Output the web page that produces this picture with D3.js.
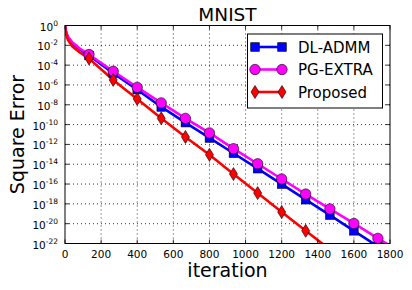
<!DOCTYPE html>
<html>
<head>
<meta charset="utf-8">
<script src="https://cdn.jsdelivr.net/npm/d3@7"></script>
<style>
  body { margin: 0; background: #fff; }
  text { font-family: "DejaVu Sans", sans-serif; fill: #000; }
</style>
</head>
<body>
<div id="chart"></div>
<script>
const width = 412, height = 290;
const margin = { top: 25.5, right: 22, bottom: 46.5, left: 65 };

// iterations of the drawn points (markers at every 133rd iteration)
const iters = [0, 5, 15, 40, 80, 133, 267, 400, 533, 667, 800, 933, 1067, 1200, 1333, 1467, 1600, 1733, 1867];
const markerStart = 5; // index of first marked point
// log10 of square error
const dlAdmm   = [0, -0.6, -1.15, -1.8, -2.4, -3.03, -4.80, -6.47, -8.22, -9.80, -11.35, -12.89, -14.45, -16.00, -17.58, -19.13, -20.72, -22.3, -23.9];
const pgExtra  = [0, -0.6, -1.1, -1.7, -2.3, -2.93, -4.62, -6.24, -7.81, -9.37, -10.84, -12.43, -13.95, -15.49, -17.01, -18.51, -19.98, -21.48, -22.95];
const proposed = [0, -0.8, -1.4, -2.1, -2.7, -3.33, -5.49, -7.41, -9.37, -11.25, -13.04, -14.99, -16.91, -18.83, -20.72, -22.6, -24.5, -26.4, -28.3];

const names = ["DL-ADMM", "PG-EXTRA", "Proposed"];
const colors = ["#0000ff", "#ff00ff", "#ff0000"];
const shapes = ["square", "circle", "diamond"];
const xTicks = [0, 200, 400, 600, 800, 1000, 1200, 1400, 1600, 1800];
const yExps = [0, -2, -4, -6, -8, -10, -12, -14, -16, -18, -20, -22];

const series = [dlAdmm, pgExtra, proposed].map((vals, i) => ({
  name: names[i], color: colors[i], shape: shapes[i],
  points: vals.map((e, j) => ({ it: iters[j], v: Math.pow(10, e), mark: j >= markerStart }))
}));

const x = d3.scaleLinear().domain([0, 1800]).range([margin.left, width - margin.right]);
const y = d3.scaleLog().domain([1e-22, 1]).range([height - margin.bottom, margin.top]);

const svg = d3.select("#chart").append("svg").attr("width", width).attr("height", height);

svg.append("clipPath").attr("id", "clip").append("rect")
  .attr("x", x(0)).attr("y", y(1)).attr("width", x(1800) - x(0)).attr("height", y(1e-22) - y(1));

// grid
const grid = svg.append("g").attr("stroke", "#000").attr("stroke-width", 0.8).attr("stroke-dasharray", "1,3");
grid.selectAll(".gx").data(xTicks.slice(1, -1)).join("line")
  .attr("x1", d => x(d)).attr("x2", d => x(d)).attr("y1", y(1)).attr("y2", y(1e-22));
grid.selectAll(".gy").data(yExps.slice(1, -1)).join("line")
  .attr("y1", d => y(Math.pow(10, d))).attr("y2", d => y(Math.pow(10, d))).attr("x1", x(0)).attr("x2", x(1800));

// lines + markers
const line = d3.line().x(d => x(d.it)).y(d => y(d.v));
const plot = svg.append("g").attr("clip-path", "url(#clip)");

function drawMarker(g, shape, color, cx, cy) {
  if (shape === "square") {
    g.append("rect").attr("x", cx - 4.3).attr("y", cy - 4.3).attr("width", 8.6).attr("height", 8.6)
      .attr("fill", color).attr("stroke", "#000").attr("stroke-width", 0.6);
  } else if (shape === "circle") {
    g.append("circle").attr("cx", cx).attr("cy", cy).attr("r", 5.2)
      .attr("fill", color).attr("stroke", "#000").attr("stroke-width", 0.6);
  } else {
    g.append("path").attr("d", `M${cx},${cy - 6.5}L${cx + 4},${cy}L${cx},${cy + 6.5}L${cx - 4},${cy}Z`)
      .attr("fill", color).attr("stroke", "#000").attr("stroke-width", 0.6);
  }
}

series.forEach(s => {
  plot.append("path").datum(s.points).attr("d", line)
    .attr("fill", "none").attr("stroke", s.color).attr("stroke-width", 2.6);
});
series.forEach(s => {
  s.points.filter(d => d.mark && d.it <= 1800).forEach(d => drawMarker(plot, s.shape, s.color, x(d.it), y(d.v)));
});

// frame
svg.append("rect").attr("x", x(0)).attr("y", y(1)).attr("width", x(1800) - x(0)).attr("height", y(1e-22) - y(1))
  .attr("fill", "none").attr("stroke", "#000").attr("stroke-width", 1);

// ticks (inward, all sides)
const tk = svg.append("g").attr("stroke", "#000").attr("stroke-width", 0.8);
xTicks.forEach(t => {
  tk.append("line").attr("x1", x(t)).attr("x2", x(t)).attr("y1", y(1e-22)).attr("y2", y(1e-22) - 4);
  tk.append("line").attr("x1", x(t)).attr("x2", x(t)).attr("y1", y(1)).attr("y2", y(1) + 4);
});
yExps.forEach(e => {
  const yy = y(Math.pow(10, e));
  tk.append("line").attr("x1", x(0)).attr("x2", x(0) + 4).attr("y1", yy).attr("y2", yy);
  tk.append("line").attr("x1", x(1800)).attr("x2", x(1800) - 4).attr("y1", yy).attr("y2", yy);
});

// tick labels
svg.append("g").selectAll("text").data(xTicks).join("text")
  .attr("x", d => x(d)).attr("y", y(1e-22) + 14).attr("text-anchor", "middle")
  .style("font-size", "10.5px").text(d => d);

const yl = svg.append("g").selectAll("text").data(yExps).join("text")
  .attr("x", x(0) - 7).attr("y", d => y(Math.pow(10, d)) + 5).attr("text-anchor", "end")
  .style("font-size", "10.5px");
yl.append("tspan").text("10");
yl.append("tspan").attr("dy", -5).style("font-size", "7.5px").text(d => d);

// title & axis labels
svg.append("text").attr("x", (x(0) + x(1800)) / 2).attr("y", 21).attr("text-anchor", "middle")
  .style("font-size", "18.5px").text("MNIST");
svg.append("text").attr("x", (x(0) + x(1800)) / 2).attr("y", 277).attr("text-anchor", "middle")
  .style("font-size", "19px").text("iteration");
svg.append("text").attr("transform", `translate(24,${(y(1) + y(1e-22)) / 2}) rotate(-90)`)
  .attr("text-anchor", "middle").style("font-size", "19px").text("Square Error");

// legend
const lg = svg.append("g");
lg.append("rect").attr("x", 247.5).attr("y", 34).attr("width", 135).attr("height", 74)
  .attr("fill", "#fff").attr("stroke", "#000").attr("stroke-width", 1);
series.forEach((s, i) => {
  const ly = 47 + i * 22.5;
  lg.append("line").attr("x1", 255).attr("x2", 282).attr("y1", ly).attr("y2", ly)
    .attr("stroke", s.color).attr("stroke-width", 2.6);
  drawMarker(lg, s.shape, s.color, 255, ly);
  drawMarker(lg, s.shape, s.color, 282, ly);
  lg.append("text").attr("x", 298).attr("y", ly + 5.5).style("font-size", "15px").text(s.name);
});
</script>
</body>
</html>
